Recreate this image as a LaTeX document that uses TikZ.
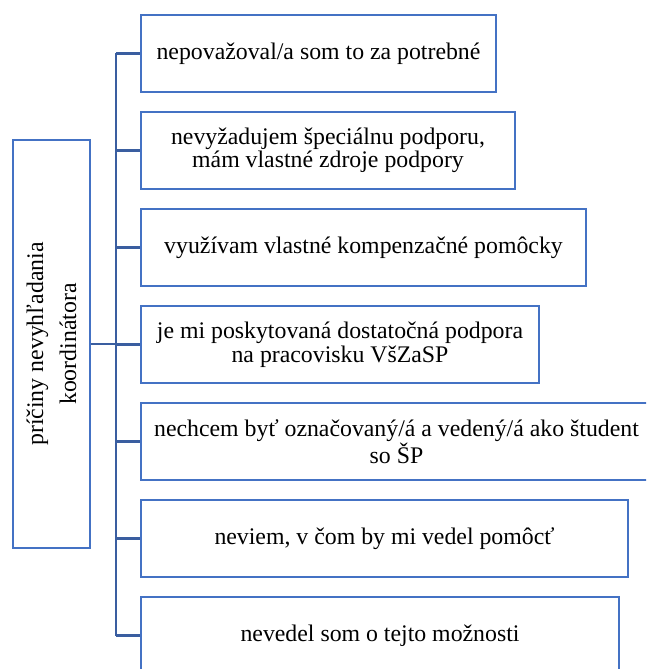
\documentclass[tikz,border=0pt]{standalone}
\usepackage{fontspec}
\setmainfont{Liberation Serif}
\definecolor{boxblue}{RGB}{68,114,196}
\definecolor{connblue}{RGB}{58,94,160}
\begin{document}
\begin{tikzpicture}[x=1pt,y=1pt,
  reason/.style={draw=boxblue, line width=2.2pt, rectangle, minimum height=77pt, inner sep=0pt, align=center,
     font=\fontsize{23.8}{23.5}\selectfont},
  rootbox/.style={draw=boxblue, line width=2.2pt, rectangle, minimum width=408pt, minimum height=77pt, inner sep=0pt,
     align=center, rotate=90, font=\fontsize{23.8}{33}\selectfont},
  conn/.style={draw=connblue, line width=2.5pt}]
\useasboundingbox (0,0) rectangle (646,-669);
\clip (0,0) rectangle (646,-669);
% connectors
\coordinate (tt) at (116,0);
% reason boxes: left edge 141, tops 15+97i, height 77
\node[reason, minimum width=355pt] (b1) at (318.5,-53.5) {nepovažoval/a som to za potrebné};
\node[reason, minimum width=374pt] (b2) at (328,-150.5) {nevyžadujem špeciálnu podporu,\\ mám vlastné zdroje podpory};
\node[reason, minimum width=445pt] (b3) at (363.5,-247.5) {využívam vlastné kompenzačné pomôcky};
\node[reason, minimum width=398pt] (b4) at (340,-344.5) {je mi poskytovaná dostatočná podpora\\ na pracovisku VšZaSP};
\node[reason, minimum width=511pt] (b5) at (396.5,-441.5) {nechcem byť označovaný/á a vedený/á ako študent\\ so ŠP};
\node[reason, minimum width=487pt] (b6) at (384.5,-538.5) {neviem, v čom by mi vedel pomôcť};
\node[reason, minimum width=478pt] (b7) at (380,-635.5) {nevedel som o tejto možnosti};
% root box
\node[rootbox] (root) at (51.5,-344) {príčiny nevyhľadania\\ koordinátora};
\draw[conn] (b1.west -| tt) -- (b7.west -| tt);
\foreach \b in {b1,b2,b3,b4,b5,b6,b7}{
  \draw[conn] (\b.west) -- (\b.west -| tt);
}
\draw[conn] (root.south) -- (root.south -| tt);
\end{tikzpicture}
\end{document}
